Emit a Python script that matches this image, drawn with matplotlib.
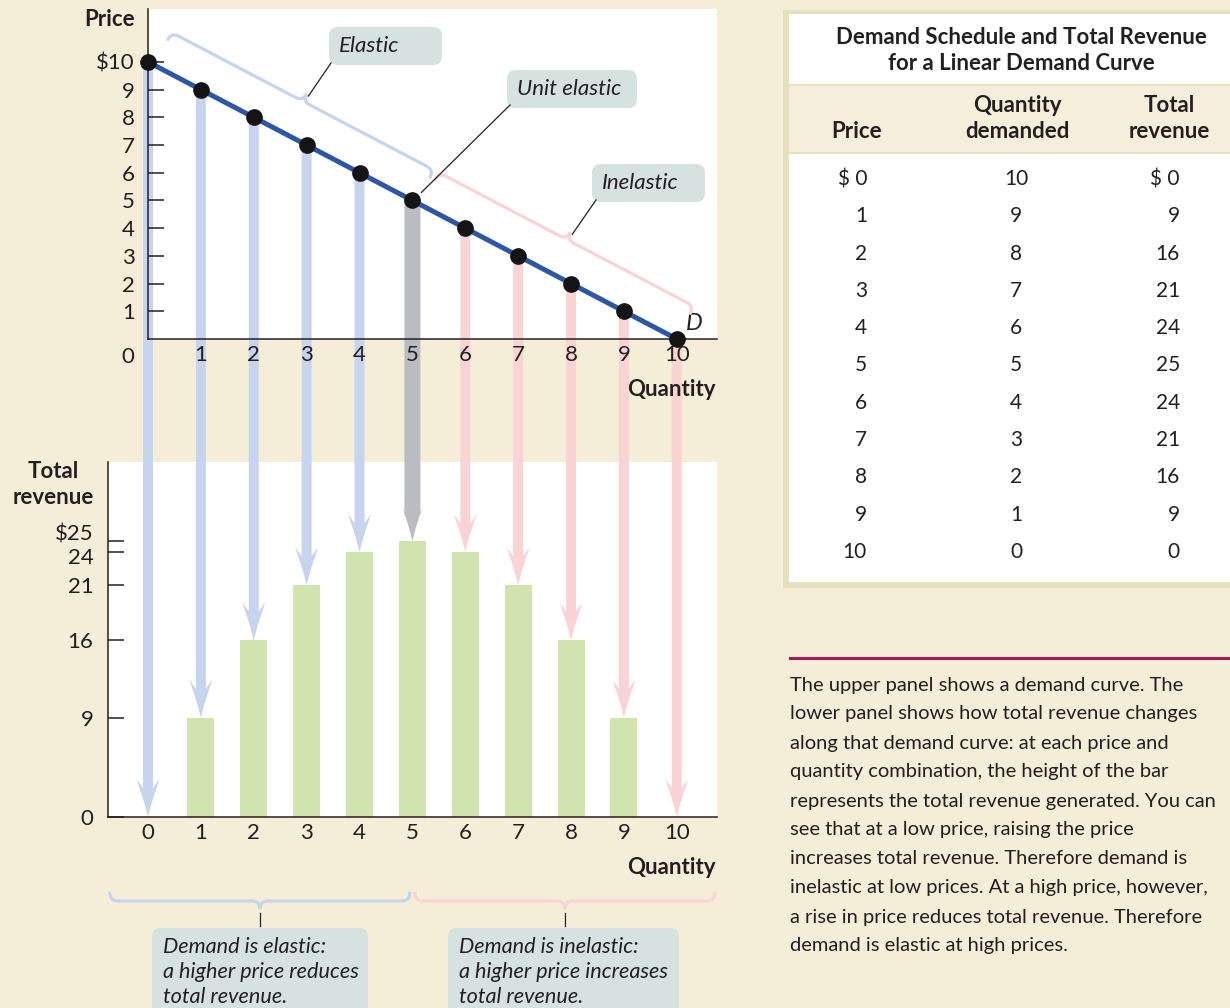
import matplotlib
matplotlib.use("Agg")
import matplotlib.pyplot as plt
from matplotlib.patches import Rectangle, FancyBboxPatch, Polygon, PathPatch
from matplotlib.path import Path
from matplotlib.transforms import IdentityTransform
import numpy as np

# Demand schedule (table order: price from 0 to 10)
prices = [0, 1, 2, 3, 4, 5, 6, 7, 8, 9, 10]
quantities = [10, 9, 8, 7, 6, 5, 4, 3, 2, 1, 0]
revenues = [0, 9, 16, 21, 24, 25, 24, 21, 16, 9, 0]

# Chart order: quantity from 0 to 10
chart_q = quantities[::-1]
chart_p = prices[::-1]
chart_tr = revenues[::-1]

top_yticks = [1, 2, 3, 4, 5, 6, 7, 8, 9, 10]
top_ylabels = ["1", "2", "3", "4", "5", "6", "7", "8", "9", "$10"]
bot_yticks = [0, 9, 16, 21]
bot_ylabels = ["0", "9", "16", "21"]

caption = [
    "The upper panel shows a demand curve. The",
    "lower panel shows how total revenue changes",
    "along that demand curve: at each price and",
    "quantity combination, the height of the bar",
    "represents the total revenue generated. You can",
    "see that at a low price, raising the price",
    "increases total revenue. Therefore demand is",
    "inelastic at low prices. At a high price, however,",
    "a rise in price reduces total revenue. Therefore",
    "demand is elastic at high prices.",
]

# Colours
BG = "#F6EDD8"
INK = "#231F20"
LINE_BLUE = "#2E56A6"
ARROW_BLUE = "#C6D4ED"
ARROW_GRAY = "#BBBCC1"
ARROW_PINK = "#FAD4D4"
BAR_GREEN = "#D1E4B0"
BOX = "#D6E2E0"
TAN = "#E6E0BC"
MAGENTA = "#A0195A"

FS = 16  # main font size

W, H = 1230, 1008
plt.rcParams["font.family"] = ["Lato", "DejaVu Sans"]
plt.rcParams["text.color"] = INK


def P(x, y):
    """pixel (top-left origin) -> figure fraction"""
    return x / W, 1 - y / H


fig = plt.figure(figsize=(W / 100, H / 100), dpi=100, facecolor=BG)
PIX = matplotlib.transforms.Affine2D().scale(1 / W, -1 / H).translate(0, 1) + fig.transFigure

# ---- axes ----
ax1 = fig.add_axes([148 / W, 1 - 339 / H, 569 / W, 330 / H])
ax2 = fig.add_axes([108 / W, 1 - 817 / H, 609 / W, 355 / H])
for ax in (ax1, ax2):
    ax.set_facecolor("none")
    ax.set_zorder(2)
    for s in ("top", "right"):
        ax.spines[s].set_visible(False)
    for s in ("left", "bottom"):
        ax.spines[s].set_linewidth(1.1)
        ax.spines[s].set_color(INK)
    # white panel behind the arrows
    pos = ax.get_position()
    fig.add_artist(Rectangle((pos.x0, pos.y0), pos.width, pos.height,
                             transform=fig.transFigure, fc="white", ec="none", zorder=0.5))

ax1.set_xlim(0, 10.76)
ax1.set_ylim(0, 11.91)
ax2.set_xlim(-0.756, 10.76)
ax2.set_ylim(0, 32.16)

ax1.set_xticks(chart_q[1:])
ax1.set_xticklabels([str(q) for q in chart_q[1:]])
ax1.set_yticks(top_yticks)
ax1.set_yticklabels(top_ylabels)
ax2.set_xticks(chart_q)
ax2.set_xticklabels([str(q) for q in chart_q])
ax2.set_yticks(bot_yticks + [24, 25])
ax2.set_yticklabels(bot_ylabels + ["", ""])

for ax, ypad in ((ax1, 9.5), (ax2, 10.5)):
    ax.tick_params(axis="y", direction="in", length=11.5, width=1.1, color=INK,
                   pad=ypad, labelsize=FS, labelcolor=INK)
    ax.tick_params(axis="x", length=0, pad=4, labelsize=FS, labelcolor=INK)

ax2.annotate("$25", xy=(0, 25), xycoords=("axes fraction", "data"), xytext=(-10.5, 4.5),
             textcoords="offset points", ha="right", va="center", fontsize=FS)
ax2.annotate("24", xy=(0, 24), xycoords=("axes fraction", "data"), xytext=(-10.5, -4),
             textcoords="offset points", ha="right", va="center", fontsize=FS)

# demand curve and points
ax1.plot(chart_q, chart_p, color=LINE_BLUE, lw=3.6, clip_on=False, zorder=3)
ax1.plot(chart_q, chart_p, "o", ms=11, color="#141414", clip_on=False, zorder=4)
ax1.text(10.32, 0.55, "D", style="italic", fontsize=17, ha="center", va="center")

# total revenue bars
ax2.bar(chart_q, chart_tr, width=0.51, color=BAR_GREEN, zorder=2)

# axis titles
fig.text(*P(135, 19), "Price", fontsize=FS, fontweight="bold", ha="right", va="center")
fig.text(*P(716, 390), "Quantity", fontsize=FS, fontweight="bold", ha="right", va="center")
fig.text(*P(716, 868), "Quantity", fontsize=FS, fontweight="bold", ha="right", va="center")
fig.text(*P(53, 472), "Total", fontsize=FS, fontweight="bold", ha="center", va="center")
fig.text(*P(53, 497), "revenue", fontsize=FS, fontweight="bold", ha="center", va="center")
fig.text(*P(128, 357), "0", fontsize=FS, ha="center", va="center")

# ---- arrows from demand points down to the revenue bars ----
for q, p, tr in zip(chart_q, chart_p, chart_tr):
    x, y0 = ax1.transData.transform((q, p))
    _, y1 = ax2.transData.transform((q, tr))
    if q < 5:
        col, hw = ARROW_BLUE, 5
    elif q == 5:
        col, hw = ARROW_GRAY, 8
    else:
        col, hw = ARROW_PINK, 5
    verts = [(x - hw, y0), (x - hw, y1 + 29), (x - 11.5, y1 + 38), (x - 3.6, y1 + 14),
             (x, y1), (x + 3.6, y1 + 14), (x + 11.5, y1 + 38), (x + hw, y1 + 29), (x + hw, y0)]
    fig.add_artist(Polygon(verts, closed=True, fc=col, ec="none",
                           transform=IdentityTransform(), zorder=1))


# ---- braces ----
def brace(p0, p1, n, base, r, color):
    p0 = np.asarray(p0, float)
    p1 = np.asarray(p1, float)
    L = np.linalg.norm(p1 - p0)
    u = (p1 - p0) / L
    n = np.asarray(n, float)
    local = [(0, 0), (0, r), (r, r), (L / 2 - r, r), (L / 2, r), (L / 2, 2 * r),
             (L / 2, r), (L / 2 + r, r), (L - r, r), (L, r), (L, 0)]
    codes = [Path.MOVETO, Path.CURVE3, Path.CURVE3, Path.LINETO, Path.CURVE3, Path.CURVE3,
             Path.CURVE3, Path.CURVE3, Path.LINETO, Path.CURVE3, Path.CURVE3]
    pts = [p0 + s * u + (base + t) * n for s, t in local]
    fig.add_artist(PathPatch(Path(pts, codes), fc="none", ec=color, lw=2.3,
                             capstyle="round", transform=IdentityTransform(), zorder=4))
    return p0 + (L / 2) * u + (base + 2 * r) * n


def on_line(q):
    return ax1.transData.transform((q, 10 - q))


d = on_line(10) - on_line(0)
u = d / np.linalg.norm(d)
nrm = np.array([-u[1], u[0]])
cusp_el = brace(on_line(0.12), on_line(5.08), nrm, 29, 8, ARROW_BLUE)
cusp_in = brace(on_line(5.18), on_line(10.0), nrm, 29, 8, ARROW_PINK)

ybase = ax2.transData.transform((0, 0))[1] - 76
cusp_b1 = brace(ax2.transData.transform((-0.72, 0)) * [1, 0] + [0, ybase],
                ax2.transData.transform((4.95, 0)) * [1, 0] + [0, ybase], [0, -1], 0, 8, ARROW_BLUE)
cusp_b2 = brace(ax2.transData.transform((5.05, 0)) * [1, 0] + [0, ybase],
                ax2.transData.transform((10.72, 0)) * [1, 0] + [0, ybase], [0, -1], 0, 8, ARROW_PINK)


# ---- labels in rounded boxes ----
def label_box(x0, y0, x1, y1, lines, tx, ty, step=25, fs=FS):
    fig.add_artist(FancyBboxPatch((x0, y0), x1 - x0, y1 - y0,
                                  boxstyle="round,pad=0,rounding_size=9", fc=BOX, ec="none",
                                  transform=PIX, zorder=4))
    for i, s in enumerate(lines):
        fig.text(*P(tx, ty + i * step), s, style="italic", fontsize=fs, ha="left",
                 va="center", zorder=5)


def leader(a, b):
    fig.add_artist(plt.Line2D([a[0], b[0]], [a[1], b[1]], color=INK, lw=0.9,
                              transform=IdentityTransform(), zorder=5))


def pix_disp(x, y):
    return np.array([x, H - y], float)


label_box(329, 27, 442, 65, ["Elastic"], 339, 46)
label_box(507, 70, 637, 108, ["Unit elastic"], 517, 89)
label_box(592, 164, 705, 202, ["Inelastic"], 602, 183)
leader(pix_disp(331, 63), cusp_el + [2, -2])
leader(pix_disp(510, 105), on_line(5) + [9, 8])
leader(pix_disp(596, 200), cusp_in + [2, -2])

label_box(152, 928, 368, 1030, ["Demand is elastic:", "a higher price reduces",
                                "total revenue."], 163, 947, fs=15.6)
label_box(448, 928, 679, 1030, ["Demand is inelastic:", "a higher price increases",
                                "total revenue."], 459, 947, fs=15.6)
leader(cusp_b1 + [0, -4], [cusp_b1[0], H - 926])
leader(cusp_b2 + [0, -4], [cusp_b2[0], H - 926])

# ---- demand schedule table ----
fig.add_artist(Rectangle((783, 10), 460, 578, transform=PIX, fc=TAN, ec="none", zorder=1))
fig.add_artist(Rectangle((789, 14), 460, 568, transform=PIX, fc="white", ec="none", zorder=1.1))
fig.add_artist(Rectangle((789, 84), 460, 70, transform=PIX, fc=TAN, ec="none", zorder=1.2))
fig.add_artist(Rectangle((789, 86), 460, 66, transform=PIX, fc="#F6EEDA", ec="none", zorder=1.3))

for txt, x, y in [("Demand Schedule and Total Revenue", 1021, 38),
                  ("for a Linear Demand Curve", 1021, 64),
                  ("Price", 857, 131),
                  ("Quantity", 1017, 106), ("demanded", 1017, 131),
                  ("Total", 1169, 106), ("revenue", 1169, 131)]:
    fig.text(*P(x, y), txt, fontsize=FS, fontweight="bold", ha="center", va="center")

for i, (p, q, tr) in enumerate(zip(prices, quantities, revenues)):
    y = 179 + i * 37.3
    fig.text(*P(867, y), f"$ {p}" if i == 0 else str(p), fontsize=15, ha="right", va="center")
    fig.text(*P(1016, y), str(q), fontsize=15, ha="center", va="center")
    fig.text(*P(1180, y), f"$ {tr}" if i == 0 else str(tr), fontsize=15, ha="right", va="center")

# ---- caption ----
fig.add_artist(plt.Line2D([790 / W, 1.0], [1 - 658 / H] * 2, color=MAGENTA, lw=2.2,
                          transform=fig.transFigure))
for i, line in enumerate(caption):
    fig.text(*P(790, 685 + i * 29), line, fontsize=14.5, ha="left", va="center")

fig.savefig("out.png", dpi=100, facecolor=BG)
